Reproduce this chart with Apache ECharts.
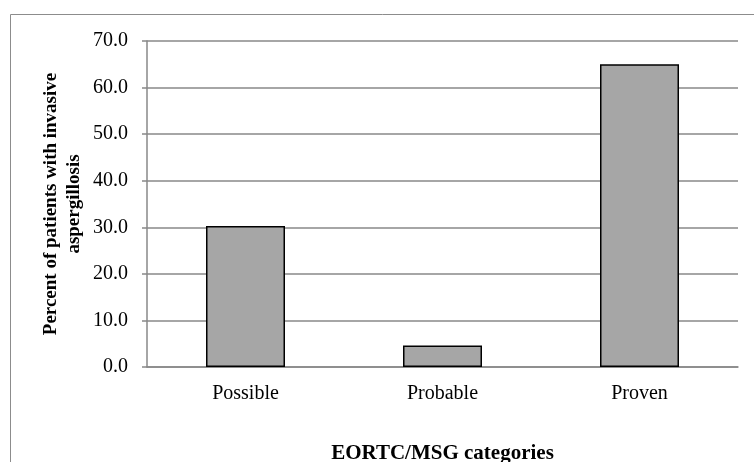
<!DOCTYPE html>
<html>
<head>
<meta charset="utf-8">
<script src="https://cdn.jsdelivr.net/npm/echarts@6/dist/echarts.min.js"></script>
<style>html,body{margin:0;padding:0;background:#fff;}#c{width:754px;height:462px;}</style>
</head>
<body>
<div id="c"></div>
<script>
const categories = ['Possible', 'Probable', 'Proven'];
const values = [30.3, 4.6, 65.0];
const yTicks = { min: 0, max: 70, interval: 10 };
const xTitle = 'EORTC/MSG categories';
const yTitle = 'Percent of patients with invasive\naspergillosis';

const chart = echarts.init(document.getElementById('c'), null, { renderer: 'canvas' });
const serif = '"Liberation Serif", "Times New Roman", serif';
chart.setOption({
  animation: false,
  backgroundColor: '#fff',
  graphic: [{
    type: 'rect', silent: true, z: -1,
    shape: { x: 10.5, y: 14.5, width: 800, height: 500 },
    style: { fill: 'none', stroke: '#8c8c8c', lineWidth: 1 }
  }],
  grid: { left: 147, right: 16, top: 41, bottom: 95, outerBoundsMode: 'none', containLabel: false },
  xAxis: {
    type: 'category',
    data: categories,
    name: xTitle,
    nameLocation: 'middle',
    nameGap: 76,
    nameMoveOverlap: false,
    nameTextStyle: { fontFamily: serif, fontWeight: 'bold', fontSize: 21, color: '#000' },
    axisLine: { lineStyle: { color: '#888', width: 1.5 } },
    axisTick: { show: false },
    axisLabel: { fontFamily: serif, fontSize: 20, color: '#000', margin: 17 }
  },
  yAxis: {
    type: 'value',
    min: yTicks.min, max: yTicks.max, interval: yTicks.interval,
    name: yTitle,
    nameLocation: 'middle',
    nameRotate: 90,
    nameGap: 61,
    nameMoveOverlap: false,
    nameTextStyle: { fontFamily: serif, fontWeight: 'bold', fontSize: 19, color: '#000', lineHeight: 23, align: 'center' },
    axisLine: { show: true, lineStyle: { color: '#888', width: 1.5 } },
    axisTick: { show: true, length: 5, lineStyle: { color: '#888', width: 1.5 } },
    axisLabel: { fontFamily: serif, fontSize: 20, color: '#000', margin: 19, formatter: v => v.toFixed(1) },
    splitLine: { lineStyle: { color: '#888', width: 1.5 } }
  },
  series: [{
    type: 'bar',
    data: values,
    barWidth: 79,
    itemStyle: { color: '#a6a6a6', borderColor: '#000', borderWidth: 1.5 }
  }]
});
</script>
</body>
</html>
